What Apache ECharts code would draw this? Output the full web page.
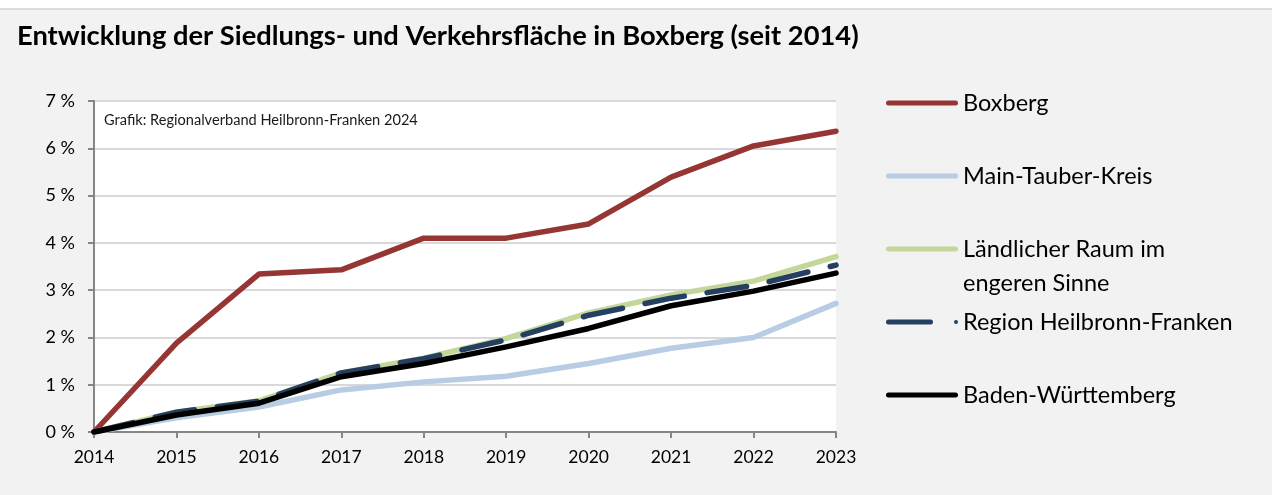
<!DOCTYPE html>
<html>
<head>
<meta charset="utf-8">
<script src="https://cdn.jsdelivr.net/npm/echarts@6/dist/echarts.min.js"></script>
<style>
  html, body { margin: 0; padding: 0; background: #f2f2f2; }
  #chart { width: 1272px; height: 495px; }
</style>
</head>
<body>
<div id="chart"></div>
<script>
// Years on the x axis
const years = ['2014', '2015', '2016', '2017', '2018', '2019', '2020', '2021', '2022', '2023'];

// Growth of settlement and traffic area since 2014, in percent
const boxberg      = [0, 1.88, 3.34, 3.43, 4.10, 4.10, 4.40, 5.39, 6.05, 6.36];
const mainTauber   = [0, 0.30, 0.53, 0.89, 1.06, 1.18, 1.45, 1.77, 2.00, 2.72];
const laendlich    = [0, 0.42, 0.66, 1.25, 1.56, 1.98, 2.52, 2.90, 3.19, 3.71];
const regionHNF    = [0, 0.42, 0.65, 1.25, 1.55, 1.95, 2.47, 2.83, 3.10, 3.53];
const badenWuertt  = [0, 0.36, 0.61, 1.17, 1.45, 1.80, 2.19, 2.67, 2.98, 3.36];

const seriesNames = [
  'Boxberg',
  'Main-Tauber-Kreis',
  'Ländlicher Raum im engeren Sinne',
  'Region Heilbronn-Franken',
  'Baden-Württemberg'
];

// y axis ticks (percent)
const yMin = 0, yMax = 7, yStep = 1;

const FONT = 'Lato, "Open Sans", sans-serif';

// legend keys: a round-capped bar, and a long dash followed by a dot
const ICON_SOLID  = 'path://M2.5,0 h67 a2.5,2.5 0 0 1 0,5 h-67 a2.5,2.5 0 0 1 0,-5 z';
const ICON_DASHDOT = 'path://M2.5,0 h42 a2.5,2.5 0 0 1 0,5 h-42 a2.5,2.5 0 0 1 0,-5 z ' +
                     'M70,0.5 a2,2 0 1 1 0,4 a2,2 0 1 1 0,-4 z M72,2.5 z';

const chart = echarts.init(document.getElementById('chart'), null, { renderer: 'canvas' });

function lineSeries(name, data, color, width, type) {
  return {
    name: name,
    type: 'line',
    data: data,
    symbol: 'none',
    smooth: false,
    lineStyle: { color: color, width: width, type: type || 'solid', cap: 'round', join: 'round' },
    itemStyle: { color: color },
    emphasis: { disabled: true }
  };
}

// one legend block per entry so every key sits on the first text line
const legendCenters = [103, 176, 249, 322, 395];
function legendFor(i) {
  const twoLine = i === 2;
  const lh = twoLine ? 34 : 28;
  return {
    data: [seriesNames[i]],
    left: 886,
    top: twoLine ? legendCenters[i] - 1.5 * lh : legendCenters[i] - lh / 2,
    padding: 0,
    itemWidth: 72,
    itemHeight: 5,
    icon: i === 3 ? ICON_DASHDOT : ICON_SOLID,
    orient: 'vertical',
    formatter: twoLine ? function () { return ' \nLändlicher Raum im\nengeren Sinne'; } : '{name}',
    textStyle: { fontFamily: FONT, fontSize: 23.5, color: '#000', lineHeight: lh }
  };
}

chart.setOption({
  backgroundColor: '#f2f2f2',
  animation: false,
  title: {
    text: 'Entwicklung der Siedlungs- und Verkehrsfläche in Boxberg (seit 2014)',
    left: 17,
    top: 23,
    padding: 0,
    textStyle: { fontFamily: FONT, fontWeight: 'bold', fontSize: 27.3, color: '#000' }
  },
  legend: [0, 1, 2, 3, 4].map(legendFor),
  grid: {
    left: 94,
    right: 436,
    top: 101,
    bottom: 63,
    show: true,
    backgroundColor: '#ffffff',
    borderWidth: 0
  },
  xAxis: {
    type: 'category',
    data: years,
    boundaryGap: false,
    axisLine: { show: true, lineStyle: { color: '#868686', width: 2 } },
    axisTick: { show: true, inside: false, length: 6, alignWithLabel: true, lineStyle: { color: '#868686', width: 2 } },
    axisLabel: { fontFamily: FONT, fontSize: 17.5, color: '#000', margin: 16 },
    splitLine: { show: false }
  },
  yAxis: {
    type: 'value',
    min: yMin,
    max: yMax,
    interval: yStep,
    axisLine: { show: true, lineStyle: { color: '#868686', width: 2 } },
    axisTick: { show: true, inside: false, length: 6, lineStyle: { color: '#868686', width: 2 } },
    axisLabel: { fontFamily: FONT, fontSize: 18, color: '#000', margin: 19, formatter: '{value} %' },
    splitLine: { show: true, lineStyle: { color: '#d9d9d9', width: 2 } }
  },
  graphic: [
    { type: 'rect', shape: { x: 0, y: 0, width: 1272, height: 8 }, style: { fill: '#ffffff' }, silent: true },
    { type: 'rect', shape: { x: 0, y: 8, width: 1272, height: 2 }, style: { fill: '#dcdcdc' }, silent: true },
    {
      type: 'text', left: 104, top: 113, silent: true,
      style: { text: 'Grafik: Regionalverband Heilbronn-Franken 2024', font: '14.6px ' + FONT, fill: '#1a1a1a' }
    }
  ],
  series: [
    lineSeries(seriesNames[0], boxberg, '#963634', 5.5),
    lineSeries(seriesNames[1], mainTauber, '#b8cce4', 5.5),
    lineSeries(seriesNames[2], laendlich, '#c4d79b', 5.5),
    lineSeries(seriesNames[3], regionHNF, '#243f60', 5.5, [40, 23]),
    lineSeries(seriesNames[4], badenWuertt, '#000000', 5.5)
  ]
});
</script>
</body>
</html>
